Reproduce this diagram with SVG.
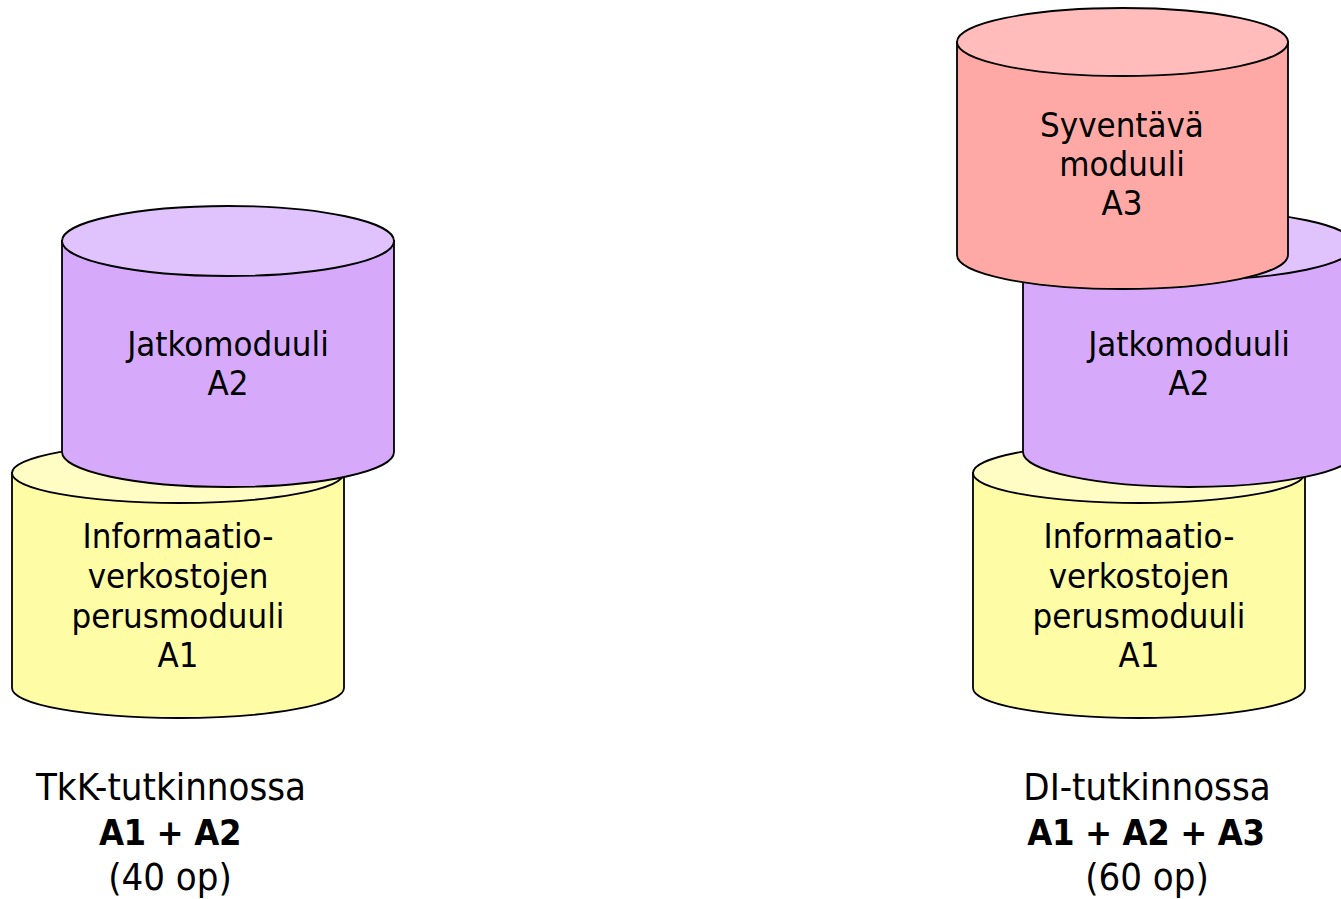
<svg xmlns="http://www.w3.org/2000/svg" width="1341" height="899" viewBox="0 0 1341 899">
<style>
.c{stroke:#000;stroke-width:1.8}
.yb{fill:#FFFCA6}.yt{fill:#FFFDC4}
.pb{fill:#D6A9FB}.pt{fill:#E0C2FD}
.rb{fill:#FFA9A6}.rt{fill:#FFBCBA}
text{font-family:"DejaVu Sans Condensed","DejaVu Sans",sans-serif;fill:#000;text-anchor:middle}
.n{font-size:34.5px}
.l{font-size:38px}
.b{font-weight:bold;font-size:36px;letter-spacing:-0.4px}
</style>
<rect width="1341" height="899" fill="#fff"/>
<g id="a1-left">
<path class="c yb" d="M12 473 V688 A166 30 0 0 0 344 688 V473 Z"/>
<ellipse class="c yt" cx="178" cy="473" rx="166" ry="30"/>
<text class="n" x="178" y="548">Informaatio-</text>
<text class="n" x="178" y="588">verkostojen</text>
<text class="n" x="178" y="628">perusmoduuli</text>
<text class="n" x="178" y="667">A1</text>
</g>
<g id="a2-left">
<path class="c pb" d="M62 241 V452 A166 35 0 0 0 394 452 V241 Z"/>
<ellipse class="c pt" cx="228" cy="241" rx="166" ry="35"/>
<text class="n" x="228" y="356">Jatkomoduuli</text>
<text class="n" x="228" y="395">A2</text>
</g>
<g id="a1-right">
<path class="c yb" d="M973 473 V688 A166 30 0 0 0 1305 688 V473 Z"/>
<ellipse class="c yt" cx="1139" cy="473" rx="166" ry="30"/>
<text class="n" x="1139" y="548">Informaatio-</text>
<text class="n" x="1139" y="588">verkostojen</text>
<text class="n" x="1139" y="628">perusmoduuli</text>
<text class="n" x="1139" y="667">A1</text>
</g>
<g id="a2-right">
<path class="c pb" d="M1023 245 V452 A166 35 0 0 0 1355 452 V245 Z"/>
<ellipse class="c pt" cx="1189" cy="245" rx="166" ry="35"/>
<text class="n" x="1189" y="356">Jatkomoduuli</text>
<text class="n" x="1189" y="395">A2</text>
</g>
<g id="a3-right">
<path class="c rb" d="M957 42 V255 A165.5 34 0 0 0 1288 255 V42 Z"/>
<ellipse class="c rt" cx="1122.5" cy="42" rx="165.5" ry="34"/>
<text class="n" x="1122" y="137">Syventävä</text>
<text class="n" x="1122" y="176">moduuli</text>
<text class="n" x="1122" y="215">A3</text>
</g>
<g id="label-left">
<text class="l" x="171" y="800">TkK-tutkinnossa</text>
<text class="l b" x="170" y="845">A1 + A2</text>
<text class="l" x="170" y="890">(40 op)</text>
</g>
<g id="label-right">
<text class="l" x="1147" y="800">DI-tutkinnossa</text>
<text class="l b" x="1146" y="845">A1 + A2 + A3</text>
<text class="l" x="1147" y="890">(60 op)</text>
</g>
<g id="connectors"></g>
</svg>
